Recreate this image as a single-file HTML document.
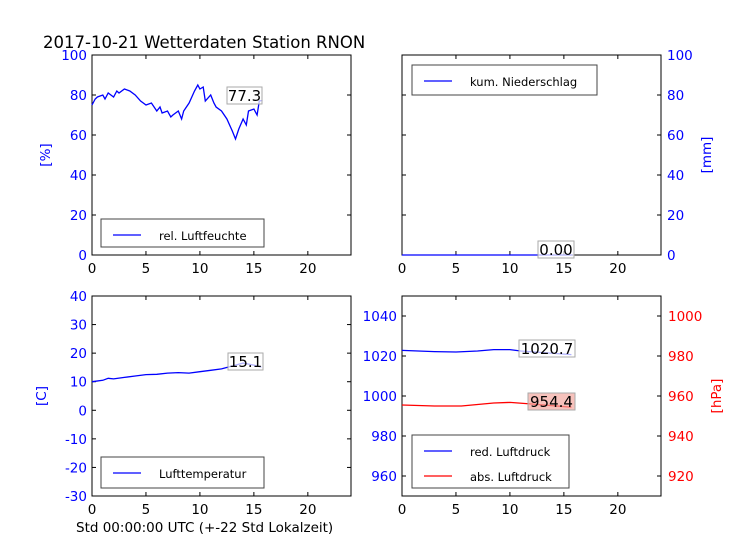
<!DOCTYPE html>
<html><head><meta charset="utf-8"><style>
body{margin:0;background:#fff}
svg{display:block;font-family:"DejaVu Sans","Liberation Sans",sans-serif}
</style></head><body>
<svg id="c" width="736" height="552" viewBox="0 0 736 552">
<rect width="736" height="552" fill="#fff"/>
<text x="43" y="48" font-size="16.5">2017-10-21 Wetterdaten Station RNON</text>
<text x="76" y="532" font-size="13.5">Std 00:00:00 UTC (+-22 Std Lokalzeit)</text>
<g id="g"></g>
</svg>
<script>
const xTicks=[0,5,10,15,20];
const humX=[0,0.3,0.5,1,1.2,1.5,2,2.3,2.5,3,3.5,4,4.5,5,5.5,6,6.3,6.5,7,7.3,7.5,8,8.3,8.5,9,9.5,9.8,10,10.3,10.5,11,11.3,11.5,12,12.5,13,13.3,13.6,14,14.3,14.5,15,15.3,15.5,15.8];
const humY=[75,78,79,80,78,81,79,82,81,83,82,80,77,75,76,72,74,71,72,69,70,72,68,72,76,82,85,83,84,77,80,76,74,72,68,62,58,63,68,65,72,73,70,77,77.3];
const rainX=[0,15.8];
const rainY=[0,0];
const tempX=[0,1,1.5,2,3,4,5,6,7,8,9,10,11,12,13,14,15,15.7];
const tempY=[10,10.5,11.2,11,11.5,12,12.5,12.6,13,13.2,13,13.5,14,14.5,15.5,16.5,15.8,15.1];
const redX=[0,3,5,7,8.5,10,11,15.7];
const redY=[1022.8,1022.2,1022,1022.5,1023.2,1023.2,1022.5,1020.7];
const absX=[0,3,5.5,8.5,10,12,15.7];
const absY=[955.5,955,955,956.5,956.8,956,954.4];
const NS="http://www.w3.org/2000/svg";
const g=document.getElementById('g');
function el(t,a,p){const e=document.createElementNS(NS,t);for(const k in a)e.setAttribute(k,a[k]);(p||g).appendChild(e);return e;}
function txt(x,y,s,a){const e=el('text',Object.assign({x:x,y:y,'font-size':13.5},a||{}));e.textContent=s;return e;}
function panel(x0,y0,ymin,ymax,yt,leftCol,name){
  const w=259,h=200;
  const sx=v=>x0+v*w/24, sy=v=>y0+h-(v-ymin)*h/(ymax-ymin);
  const f=el('rect',{x:x0,y:y0,width:w,height:h,fill:'none',stroke:'#000','stroke-width':1});
  
  
  xTicks.forEach(t=>{el('line',{x1:sx(t),x2:sx(t),y1:y0,y2:y0+4,stroke:'#000'});el('line',{x1:sx(t),x2:sx(t),y1:y0+h,y2:y0+h-4,stroke:'#000'});
    const l=txt(sx(t),y0+h+18,String(t),{'text-anchor':'middle',fill:'#000'});
    
    });
  if(yt){yt.forEach(t=>{el('line',{x1:x0,x2:x0+4,y1:sy(t),y2:sy(t),stroke:'#000'});el('line',{x1:x0+w,x2:x0+w-4,y1:sy(t),y2:sy(t),stroke:'#000'});
    if(leftCol){const l=txt(leftCol.side=='r'?x0+w+6:x0-5,sy(t)+5,String(t),{'text-anchor':leftCol.side=='r'?'start':'end',fill:leftCol.c});
    
    }});}
  return {sx,sy};
}
function line(ax,xs,ys,c,name){const d=xs.map((v,i)=>(i?'L':'M')+ax.sx(v).toFixed(1)+','+ax.sy(ys[i]).toFixed(1)).join('');
  const p=el('path',{d:d,fill:'none',stroke:c,'stroke-width':1.3});
  
  }
function valbox(x,y,w,s,fill,name){el('rect',{x:x,y:y,width:w,height:17,fill:fill,'fill-opacity':0.7,stroke:'#aaa'});const t=txt(x+w/2,y+14,s,{'text-anchor':'middle','font-size':15});
  
  }
function legend(x,y,w,h,items,name){const b=el('rect',{x:x,y:y,width:w,height:h,fill:'#fff',stroke:'#444'});
  
  
  items.forEach((it,i)=>{const yy=y+16+i*25;el('line',{x1:x+12,x2:x+40,y1:yy,y2:yy,stroke:it[1],'stroke-width':1.3});
    const t=txt(x+58,yy+5,it[0],{'font-size':11.5});
    
    });}
function ylab(x,y,s,c,name){const t=txt(x,y,s,{fill:c,transform:`rotate(-90 ${x} ${y})`,'text-anchor':'middle'});
  
  }
const a1=panel(92,55,0,100,[0,20,40,60,80,100],{c:'#00f',side:'l'},'humidity-panel');
line(a1,humX,humY,'#00f','humidity-line');
valbox(227,87,35,humY[humY.length-1].toFixed(1),'#fff','humidity-last-value');
legend(101,219,163,28,[['rel. Luftfeuchte','#00f']],'humidity-legend');
ylab(50,155,'[%]','#00f','humidity-y-title');
const a2=panel(402,55,0,100,[0,20,40,60,80,100],{c:'#00f',side:'r'},'rain-panel');
line(a2,rainX,rainY,'#00f','rain-line');
valbox(538,241,36,rainY[rainY.length-1].toFixed(2),'#fff','rain-last-value');
legend(412,65,185,30,[['kum. Niederschlag','#00f']],'rain-legend');
ylab(711,155,'[mm]','#00f','rain-y-title');
const a3=panel(92,296,-30,40,[-30,-20,-10,0,10,20,30,40],{c:'#00f',side:'l'},'temperature-panel');
line(a3,tempX,tempY,'#00f','temperature-line');
valbox(228,353,35,tempY[tempY.length-1].toFixed(1),'#fff','temperature-last-value');
legend(101,457,163,31,[['Lufttemperatur','#00f']],'temperature-legend');
ylab(46,396,'[C]','#00f','temperature-y-title');
const a4=panel(402,296,950,1050,[960,980,1000,1020,1040],{c:'#00f',side:'l'},'pressure-panel');
const a4r={sx:a4.sx,sy:v=>296+200-(v-910)*2};
[920,940,960,980,1000].forEach(t=>{const l=txt(668,a4r.sy(t)+5,String(t),{fill:'#f00'});
  
  });
line(a4,redX,redY,'#00f','red-pressure-line');
line(a4r,absX,absY,'#f00','abs-pressure-line');
valbox(519,340,56,redY[redY.length-1].toFixed(1),'#fff','red-pressure-last-value');
valbox(528,393,47,absY[absY.length-1].toFixed(1),'#f4a8a0','abs-pressure-last-value');
legend(412,435,157,53,[['red. Luftdruck','#00f'],['abs. Luftdruck','#f00']],'pressure-legend');
ylab(721,396,'[hPa]','#f00','pressure-y-title');
</script>
</body></html>
